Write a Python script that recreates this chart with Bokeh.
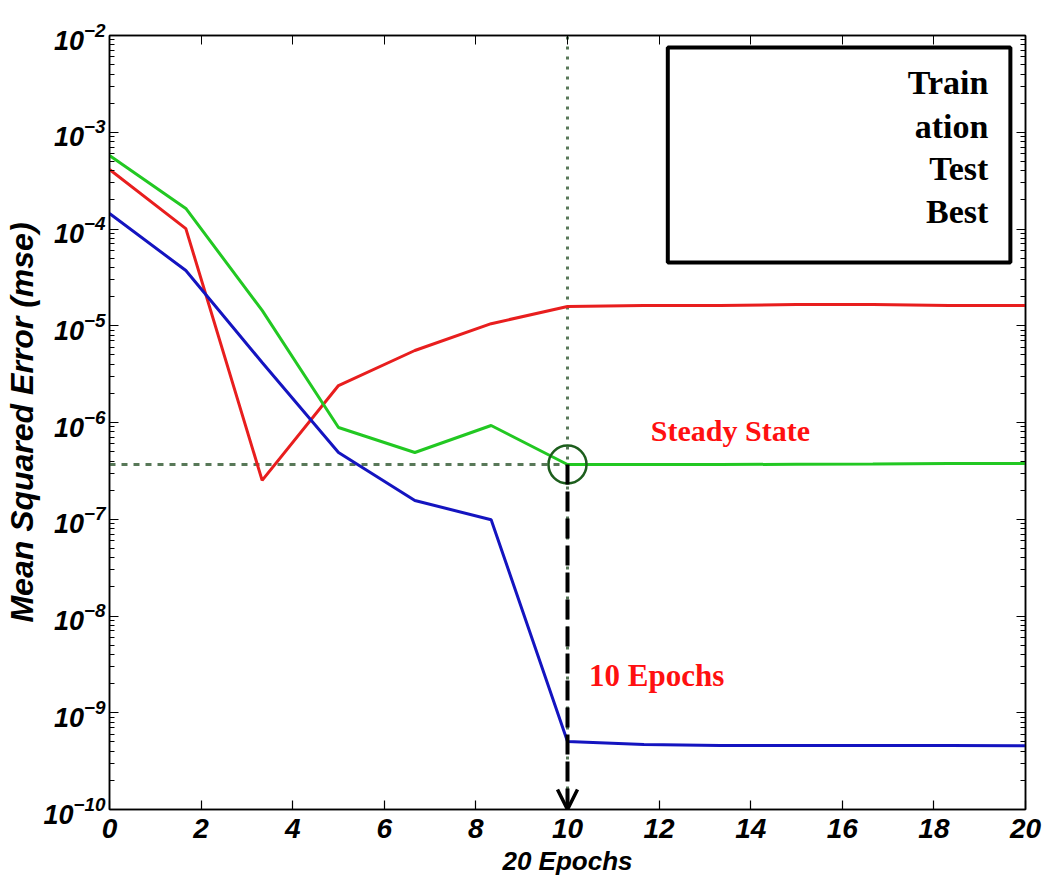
import math
from bokeh.plotting import figure
from bokeh.models import (ColumnDataSource, LabelSet, Label, BoxAnnotation, Arrow,
                          OpenHead, LogAxis, LinearAxis, FixedTicker,
                          CustomJSTickFormatter, LogTickFormatter, Title)
from bokeh.embed import file_html
from bokeh.resources import INLINE

# ---------------- data ----------------
epochs = [0, 1.667, 3.333, 5, 6.667, 8.333, 10, 11.667, 13.333, 15, 16.667, 18.333, 20]
train_mse = [1.45e-4, 3.72e-5, 4.17e-6, 4.90e-7, 1.56e-7, 9.9e-8, 5.05e-10,
             4.70e-10, 4.59e-10, 4.59e-10, 4.59e-10, 4.59e-10, 4.55e-10]
valid_mse = [5.75e-4, 1.63e-4, 1.44e-5, 8.87e-7, 4.90e-7, 9.31e-7, 3.68e-7,
             3.68e-7, 3.68e-7, 3.70e-7, 3.72e-7, 3.77e-7, 3.77e-7]
test_mse = [4.12e-4, 1.01e-4, 2.52e-7, 2.41e-6, 5.55e-6, 1.05e-5, 1.58e-5,
            1.62e-5, 1.62e-5, 1.66e-5, 1.66e-5, 1.62e-5, 1.62e-5]
best_epoch = 10
best_mse = 3.68e-7
y_tick_exponents = [-2, -3, -4, -5, -6, -7, -8, -9, -10]
x_ticks = [0, 2, 4, 6, 8, 10, 12, 14, 16, 18, 20]
legend_items = ["Train", "ation", "Test", "Best"]

SANS = "Liberation Sans"
SERIF = "Liberation Serif"

p = figure(width=1047, height=888, y_axis_type="log", x_range=(0, 20),
           y_range=(1e-10, 1e-2), output_backend="svg", toolbar_location=None,
           min_border_left=108, min_border_right=22, min_border_top=35,
           min_border_bottom=79)
p.grid.visible = False
p.outline_line_color = "black"
p.outline_line_width = 1.5
p.background_fill_color = "white"
p.border_fill_color = "white"

blank = CustomJSTickFormatter(code="return ''")
major_y = [10.0 ** e for e in y_tick_exponents]
minor_y = [m * 10.0 ** e for e in y_tick_exponents[1:] for m in range(2, 10)]

# bottom axis
xa = p.xaxis[0]
xa.ticker = FixedTicker(ticks=x_ticks)
xa.major_tick_in = 9
xa.major_tick_out = 0
xa.minor_tick_line_color = None
xa.axis_line_width = 1.5
xa.major_tick_line_width = 1.2
xa.major_label_text_font = SANS
xa.major_label_text_font_style = "bold italic"
xa.major_label_text_font_size = "28px"
xa.major_label_text_color = "black"
xa.major_label_standoff = 9
xa.axis_label = "20 Epochs"
xa.axis_label_text_font = SANS
xa.axis_label_text_font_style = "bold italic"
xa.axis_label_text_font_size = "26px"
xa.axis_label_text_color = "black"
xa.axis_label_standoff = 5

# left axis: 10 with superscript exponent
ya = p.yaxis[0]
ya.ticker = FixedTicker(ticks=major_y, minor_ticks=minor_y)
ya.formatter = LogTickFormatter(min_exponent=0)
ya.major_tick_in = 9
ya.major_tick_out = 0
ya.minor_tick_in = 5
ya.minor_tick_out = 0
ya.axis_line_width = 1.5
ya.major_label_text_font = SANS
ya.major_label_text_font_style = "bold italic"
ya.major_label_text_font_size = "27px"
ya.major_label_text_color = "black"
ya.major_label_standoff = 4

# y axis title as a side title (allows offset along the axis)
p.add_layout(Title(text="Mean Squared Error (mse)", align="center", offset=55,
                   text_font=SANS, text_font_style="bold italic", text_font_size="32px",
                   text_color="black", standoff=2), "left")

# right / top axes with inward ticks only
ra = LogAxis(ticker=FixedTicker(ticks=major_y, minor_ticks=minor_y),
             formatter=blank, major_tick_in=9, major_tick_out=0, minor_tick_in=5,
             minor_tick_out=0, axis_line_width=1.5)
p.add_layout(ra, "right")
ta = LinearAxis(ticker=FixedTicker(ticks=x_ticks), formatter=blank, major_tick_in=9,
                major_tick_out=0, minor_tick_line_color=None, axis_line_width=1.5)
p.add_layout(ta, "above")

# guide lines through best point
p.line([0, best_epoch], [best_mse, best_mse], line_color="#587858", line_width=3,
       line_dash="6 6")
p.line([best_epoch, best_epoch], [1e-10, 1e-2], line_color="#587858", line_width=3,
       line_dash="3 7")

# series
p.line(epochs, test_mse, line_color="#e81e1e", line_width=3)
p.line(epochs, valid_mse, line_color="#22c822", line_width=3)
p.line(epochs, train_mse, line_color="#1414c0", line_width=3)

# best marker circle
p.scatter([best_epoch], [best_mse], marker="circle", size=38, fill_color=None,
          line_color="#1d5e1d", line_width=2.5)

# dashed arrow down to axis
p.add_layout(Arrow(end=OpenHead(size=20, line_width=3.5, line_color="black"),
                   x_start=best_epoch, y_start=best_mse, x_end=best_epoch, y_end=1e-10,
                   line_dash="20 7", line_width=4, line_color="black"))

# annotations
p.add_layout(Label(x=11.82, y=10 ** -6.08, text="Steady State", text_align="left",
                   text_baseline="middle", text_font=SERIF, text_font_style="bold",
                   text_font_size="30px", text_color="#ff1010"))
p.add_layout(Label(x=10.47, y=10 ** -8.62, text="10 Epochs", text_align="left",
                   text_baseline="middle", text_font=SERIF, text_font_style="bold",
                   text_font_size="31px", text_color="#ff1010"))

# legend box (text partially cut as in the figure)
p.add_layout(BoxAnnotation(left=12.19, right=19.67, top=10 ** -2.124, bottom=10 ** -4.346,
                           fill_color="white", fill_alpha=1, line_color="black",
                           line_alpha=1, line_width=4))
leg_y = [10 ** -2.486, 10 ** -2.94, 10 ** -3.375, 10 ** -3.82]
leg_src = ColumnDataSource(dict(y=leg_y, t=legend_items))
p.add_layout(LabelSet(x=19.19, y="y", text="t", source=leg_src, text_align="right",
                      text_baseline="middle", text_font=SERIF, text_font_style="bold",
                      text_font_size="34px", text_color="black"))

open("out.html", "w").write(file_html(p, INLINE))
